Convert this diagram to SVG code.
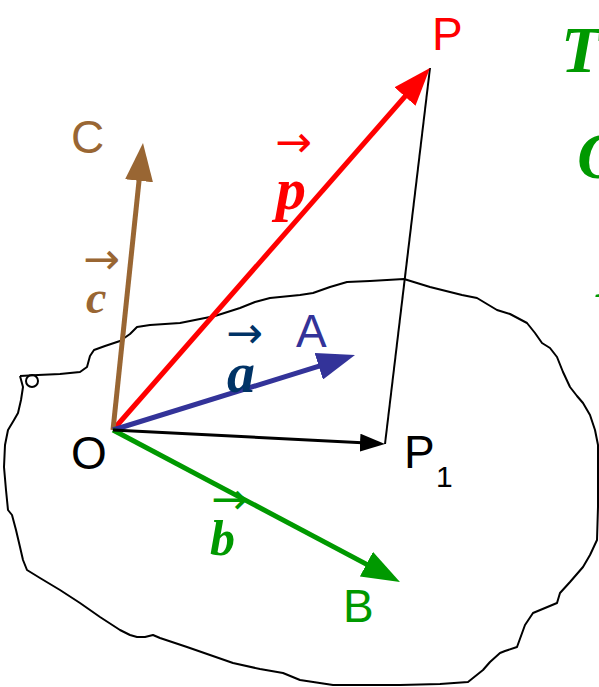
<svg xmlns="http://www.w3.org/2000/svg" width="599" height="687" viewBox="0 0 599 687">
<style>
.lbl{font-family:"Liberation Sans",Arial,sans-serif;font-size:46px}
.vec{font-family:"Liberation Serif","Times New Roman",serif;font-weight:bold;font-style:italic}
.arr{font-family:"DejaVu Sans",sans-serif;font-size:44px}
.big{font-family:"Liberation Serif","Times New Roman",serif;font-weight:bold;font-style:italic;font-size:66px;fill:#009900}
</style>
<defs>
<marker id="hr" markerUnits="userSpaceOnUse" viewBox="0 0 38 28" refX="18" refY="14" markerWidth="38" markerHeight="28" orient="auto"><path d="M0,0 L38,14 L0,28 z" fill="#ff0000"/></marker>
<marker id="hb" markerUnits="userSpaceOnUse" viewBox="0 0 38 28" refX="18" refY="14" markerWidth="38" markerHeight="28" orient="auto"><path d="M0,0 L38,14 L0,28 z" fill="#333399"/></marker>
<marker id="hg" markerUnits="userSpaceOnUse" viewBox="0 0 38 28" refX="18" refY="14" markerWidth="38" markerHeight="28" orient="auto"><path d="M0,0 L38,14 L0,28 z" fill="#009900"/></marker>
<marker id="hc" markerUnits="userSpaceOnUse" viewBox="0 0 38 28" refX="18" refY="14" markerWidth="38" markerHeight="28" orient="auto"><path d="M0,0 L38,14 L0,28 z" fill="#996633"/></marker>
<marker id="hk" markerUnits="userSpaceOnUse" viewBox="0 0 25 18" refX="12" refY="9" markerWidth="25" markerHeight="18" orient="auto"><path d="M0,0 L25,9 L0,18 z" fill="#000000"/></marker>
</defs>
<rect width="599" height="687" fill="#ffffff"/>
<g id="plane" fill="none" stroke="#000" stroke-width="2" stroke-linejoin="round">
<polyline points="20,376 38,375 60,374 80,372 87,367 90,356 94,350 105,346 120,341 130,334 137,327 150,325 180,323 195,320 215,316 240,308 255,302 270,298 300,295 313,293 330,287 347,282 370,281 404,279 430,287 462,295 477,298 497,310 510,314 527,323 535,333 542,343 550,348 557,357 563,372 570,387 577,396 583,403 590,415 595,430 598,445 598,470 598,507 597,540 590,555 583,567 570,582 560,593 557,603 545,608 533,613 525,625 517,647 505,651 500,653 490,662 483,670 468,682 440,684 400,685 333,685 300,680 283,673 260,669 233,663 210,655 187,647 160,638 153,635 145,637 137,637 130,635 120,630 100,617 80,603 60,590 40,578 27,570 23,560 20,547 16,530 12,515 8,510 6,490 4,467 5,445 8,430 14,420 18,413 21,400 23,387 20,376"/>
<circle cx="32" cy="381" r="6"/>
</g>
<g id="connectors" fill="none">
<line id="PP1" x1="430" y1="68" x2="385" y2="444" stroke="#000" stroke-width="2"/>
<line id="vp" x1="113" y1="430" x2="416.8" y2="83" stroke="#ff0000" stroke-width="5" marker-end="url(#hr)"/>
<line id="vc" x1="113" y1="430" x2="140.9" y2="162.9" stroke="#996633" stroke-width="5" marker-end="url(#hc)"/>
<line id="va" x1="113" y1="430" x2="335.9" y2="360.9" stroke="#333399" stroke-width="5" marker-end="url(#hb)"/>
<line id="vb" x1="113" y1="430" x2="382.3" y2="572.6" stroke="#009900" stroke-width="5" marker-end="url(#hg)"/>
<line id="vp1" x1="113" y1="430" x2="372" y2="443.3" stroke="#000" stroke-width="3" marker-end="url(#hk)"/>
</g>
<g id="O"><text class="lbl" x="71" y="469" fill="#000">O</text></g>
<g id="P"><text class="lbl" x="432" y="50" fill="#ff0000">P</text></g>
<g id="P1"><text class="lbl" x="404" y="468" fill="#000">P</text><text class="lbl" x="436" y="487" style="font-size:30px" fill="#000">1</text></g>
<g id="A"><text class="lbl" x="296" y="347" fill="#333399">A</text></g>
<g id="B"><text class="lbl" x="343" y="622" fill="#009900">B</text></g>
<g id="C"><text class="lbl" x="71" y="153" fill="#996633">C</text></g>
<g id="label-p"><text class="arr" x="275" y="157" fill="#ff0000">→</text><text class="vec" x="276" y="209" font-size="60" fill="#ff0000">p</text></g>
<g id="label-a"><text class="arr" x="226" y="348" fill="#003366">→</text><text class="vec" x="227" y="392" font-size="56" fill="#003366">a</text></g>
<g id="label-c"><text class="arr" x="83" y="274" fill="#996633">→</text><text class="vec" x="86" y="313" font-size="46" fill="#996633">c</text></g>
<g id="label-b"><text class="arr" x="211" y="514" fill="#009900">→</text><text class="vec" x="210" y="555" font-size="50" fill="#009900">b</text></g>
<g id="side-text"><text class="big" x="561" y="72">T</text><text class="big" x="577" y="178">O</text><text class="big" x="596" y="297">I</text></g>
</svg>
